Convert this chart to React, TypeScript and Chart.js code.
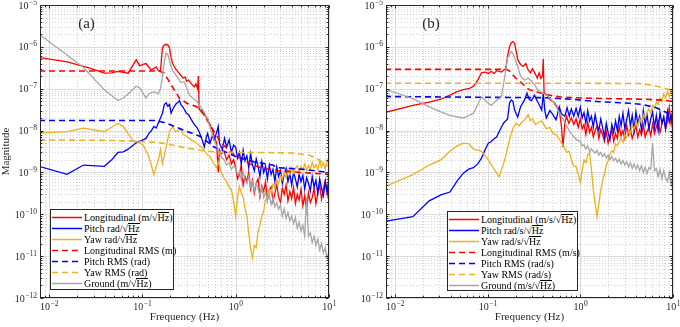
import React, { useEffect, useRef } from 'react';
import { Chart, registerables } from 'chart.js';

Chart.register(...registerables);

type Pt = [number, number];

const FONT = '"Liberation Serif", "Times New Roman", serif';
const RED = '#FF0000';
const BLUE = '#0000FF';
const ORANGE = '#EDB120';
const GRAY = '#A6A6A6';
const INK = '#262626';

const X_MIN = 0.008;
const X_MAX = 10;
const Y_MIN = 1e-12;
const Y_MAX = 1e-5;

// shared frequency grid (Hz) for the noisy high-frequency part
const HF = [
  1.0, 1.047, 1.096, 1.148, 1.202, 1.259, 1.318, 1.38, 1.445, 1.514,
  1.585, 1.66, 1.738, 1.82, 1.905, 1.995, 2.089, 2.188, 2.291, 2.399,
  2.512, 2.63, 2.754, 2.884, 3.02, 3.162, 3.311, 3.467, 3.631, 3.802,
  3.981, 4.169, 4.365, 4.571, 4.786, 5.012, 5.248, 5.495, 5.754, 6.026,
  6.31, 6.607, 6.918, 7.244, 7.586, 7.943, 8.318, 8.71, 9.12, 9.55,
  10.0,
];

// ---------------- panel (a) ----------------
const aLongLow: Pt[] = [
  [0.0078, 5.6e-7], [0.0156, 4.4e-7], [0.0234, 3.4e-7], [0.0273, 3.1e-7], [0.0391, 2.35e-7],
  [0.0469, 2.4e-7], [0.0547, 2.6e-7], [0.0703, 2.35e-7], [0.0859, 4.9e-7], [0.0938, 3.5e-7],
  [0.1016, 3.8e-7], [0.1094, 4.0e-7], [0.1172, 3.3e-7], [0.125, 2.8e-7], [0.1406, 3.3e-7],
  [0.1484, 2.7e-7], [0.1563, 2.6e-7], [0.1641, 9.5e-7], [0.1719, 1.1e-6], [0.1797, 1.15e-6],
  [0.1875, 1.1e-6], [0.1953, 9.5e-7], [0.2031, 5.5e-7], [0.2109, 4.0e-7], [0.2266, 3.0e-7],
  [0.2422, 2.5e-7], [0.2578, 2.1e-7], [0.2734, 1.8e-7], [0.2891, 1.9e-7], [0.2969, 1.5e-7],
  [0.3125, 1.6e-7], [0.3359, 1.3e-7], [0.3594, 1.1e-7], [0.375, 1.3e-7], [0.3906, 1.0e-7],
  [0.3984, 2.0e-7], [0.4063, 3.2e-8], [0.4375, 3.0e-8], [0.4688, 2.3e-8], [0.5, 1.9e-8],
  [0.5313, 1.4e-8], [0.5625, 1.0e-8], [0.6, 6.5e-9], [0.625, 5e-9], [0.65, 1.0e-9],
  [0.67, 3.5e-9], [0.7, 2.8e-9], [0.75, 3.2e-9], [0.8, 2.0e-9], [0.85, 2.6e-9],
  [0.9, 1.6e-9], [0.95, 2.0e-9],
];
const aLongHigh = [
  1.3e-9, 7e-10, 9e-10, 1.5e-9, 5e-10, 8e-10, 6e-10, 1.0e-9, 4e-10, 6.5e-10,
  3.2e-10, 5.5e-10, 7e-10, 2.6e-10, 4.8e-10, 3.5e-10, 6e-10, 2.2e-10, 3.8e-10, 4.5e-10,
  2e-10, 3.2e-10, 5.2e-10, 2.6e-10, 1.9e-10, 4.2e-10, 3e-10, 5e-10, 2.1e-10, 3.5e-10,
  2.4e-10, 4.4e-10, 1.8e-10, 3e-10, 2.2e-10, 4e-10, 1.6e-10, 2.8e-10, 1.3e-10, 3.3e-10,
  1.9e-10, 2.5e-10, 4.2e-10, 1.8e-10, 3.2e-10, 5e-10, 2.3e-10, 4e-10, 6.5e-10, 3e-10,
  8e-10,
];

const aPitchLow: Pt[] = [
  [0.0078, 1.4e-9], [0.0156, 9e-10], [0.0234, 1.5e-9], [0.0391, 1.4e-9], [0.0469, 2.0e-9],
  [0.0547, 3.0e-9], [0.0625, 3.1e-9], [0.0703, 3.6e-9], [0.0859, 5.1e-9], [0.1016, 6e-9],
  [0.1094, 6.5e-9], [0.1172, 8.5e-9], [0.125, 1.0e-8], [0.1328, 1.25e-8], [0.1406, 1.15e-8],
  [0.1563, 2.0e-8], [0.1641, 2.6e-8], [0.1719, 4.2e-8], [0.1797, 4.6e-8], [0.1875, 3.8e-8],
  [0.1953, 4.2e-8], [0.2031, 2.6e-8], [0.2109, 3.2e-8], [0.2266, 4.2e-8], [0.2422, 4.8e-8],
  [0.25, 5.2e-8], [0.2578, 4.2e-8], [0.2734, 3.6e-8], [0.2969, 2.6e-8], [0.3125, 2.4e-8],
  [0.3359, 1.8e-8], [0.3594, 1.4e-8], [0.3828, 1.2e-8], [0.4063, 9.4e-9], [0.4375, 6e-9],
  [0.4609, 4.1e-9], [0.4844, 7e-9], [0.5, 8.5e-9], [0.5313, 5e-9], [0.5625, 7.5e-9],
  [0.5859, 6e-9], [0.625, 9e-9], [0.65, 1.25e-8], [0.67, 5e-9], [0.72, 3.5e-9],
  [0.76, 6.5e-9], [0.8, 4e-9], [0.85, 6e-9], [0.9, 3e-9], [0.95, 4.5e-9],
];
const aPitchHigh = [
  4e-9, 2.2e-9, 3e-9, 1.6e-9, 3.4e-9, 1.9e-9, 2.5e-9, 1.3e-9, 2.8e-9, 1.5e-9,
  1.1e-9, 2.1e-9, 1.4e-9, 8e-10, 1.8e-9, 1.0e-9, 1.4e-9, 7e-10, 1.5e-9, 9e-10,
  1.2e-9, 6e-10, 1.35e-9, 8e-10, 1.1e-9, 5.5e-10, 9e-10, 1.25e-9, 6e-10, 9.5e-10,
  5e-10, 1.0e-9, 7e-10, 4.5e-10, 9e-10, 6e-10, 8.5e-10, 4e-10, 7.5e-10, 5.5e-10,
  3.6e-10, 8e-10, 4.5e-10, 6.5e-10, 3.2e-10, 7e-10, 4.2e-10, 2.8e-10, 6e-10, 3.5e-10,
  6e-10,
];

const aYawLow: Pt[] = [
  [0.0078, 8.7e-9], [0.0156, 9.4e-9], [0.0234, 1.14e-8], [0.0391, 9.4e-9], [0.0547, 1.5e-8],
  [0.0625, 1.25e-8], [0.0781, 6e-9], [0.1016, 4.6e-9], [0.1172, 2.4e-9], [0.1328, 9e-10],
  [0.1484, 2e-9], [0.1563, 3.5e-9], [0.1641, 1.6e-9], [0.1797, 4.1e-9], [0.1953, 9.4e-9],
  [0.2109, 1.25e-8], [0.2266, 9.4e-9], [0.2422, 1.0e-8], [0.2578, 1.1e-8], [0.2734, 8e-9],
  [0.2969, 7.3e-9], [0.3359, 6e-9], [0.375, 5.1e-9], [0.4375, 3.9e-9], [0.5, 2.6e-9],
  [0.5313, 2.4e-9], [0.5625, 1.8e-9], [0.6, 1.5e-9], [0.625, 1.3e-9], [0.65, 1.8e-9],
  [0.7, 1e-9], [0.76, 7e-10], [0.8, 6e-10], [0.85, 4.5e-10], [0.9, 3.8e-10],
  [0.95, 2e-10],
];
const aYawHigh = [
  9e-11, 2.5e-10, 4.6e-10, 3.2e-10, 2.6e-10, 1.4e-10, 9e-11, 3.5e-11, 1.5e-11, 9e-12,
  1.8e-11, 1.6e-11, 4e-11, 5.5e-11, 9e-11, 1.2e-10, 2.2e-10, 2.4e-10, 3.8e-10, 3.3e-10,
  5.2e-10, 4.2e-10, 6.8e-10, 5.5e-10, 8.5e-10, 6.8e-10, 1.0e-9, 7.5e-10, 1.15e-9, 9e-10,
  1.3e-9, 9.5e-10, 1.25e-9, 1.45e-9, 1.0e-9, 1.4e-9, 1.15e-9, 1.6e-9, 1.1e-9, 1.45e-9,
  1.2e-9, 1.75e-9, 1.3e-9, 1.55e-9, 1.15e-9, 1.9e-9, 1.35e-9, 1.7e-9, 1.2e-9, 2e-9,
  1.5e-9,
];

const aLongRms: Pt[] = [
  [0.0078, 2.66e-7], [0.15, 2.66e-7], [0.17, 2.4e-7], [0.19, 1.6e-7], [0.21, 1.1e-7],
  [0.25, 5.9e-8], [0.3, 4.5e-8], [0.38, 3.7e-8], [0.45, 2.5e-8], [0.55, 1.2e-8],
  [0.7, 5e-9], [1, 2.5e-9], [1.5, 1.5e-9], [2, 1.25e-9], [3, 1.1e-9],
  [5, 1e-9], [9.9, 9e-10], [10, 2e-10],
];
const aPitchRms: Pt[] = [
  [0.0078, 1.74e-8], [0.14, 1.74e-8], [0.18, 1.5e-8], [0.27, 1.05e-8], [0.42, 7.2e-9],
  [0.58, 4.1e-9], [1, 2.4e-9], [1.55, 1.8e-9], [2.5, 1.5e-9], [2.8, 1.3e-9],
  [5, 1.2e-9], [9.9, 1.0e-9], [10, 1.5e-11],
];
const aYawRms: Pt[] = [
  [0.0078, 6e-9], [0.05, 5.8e-9], [0.15, 5.2e-9], [0.2, 4.6e-9], [0.3, 3.8e-9],
  [0.45, 3.3e-9], [0.6, 3.1e-9], [1, 3e-9], [2, 3e-9], [4, 2.9e-9],
  [6, 2.6e-9], [7, 2.3e-9], [8, 1.9e-9], [9, 1.6e-9], [9.9, 1.4e-9], [10, 3e-10],
];

const aGroundLow: Pt[] = [
  [0.0078, 2e-6], [0.0156, 6.4e-7], [0.0234, 3.2e-7], [0.0313, 1.6e-7], [0.0391, 9.5e-8],
  [0.0547, 5.2e-8], [0.0625, 6e-8], [0.0703, 7.5e-8], [0.0859, 1.15e-7], [0.0938, 1.05e-7],
  [0.1094, 6e-8], [0.1172, 7.5e-8], [0.1328, 8.5e-8], [0.1484, 7.5e-8], [0.1563, 1.0e-7],
  [0.1641, 1.9e-7], [0.1719, 4.5e-7], [0.1797, 7.1e-7], [0.1875, 6.5e-7], [0.1953, 4.6e-7],
  [0.2109, 2.7e-7], [0.2422, 1.8e-7], [0.2578, 1.4e-7], [0.2813, 1.45e-7], [0.3203, 7e-8],
  [0.3594, 5.6e-8], [0.3828, 5e-8], [0.4297, 3.5e-8], [0.5, 1.95e-8], [0.5313, 1.2e-8],
  [0.5781, 6.5e-9], [0.6172, 4.5e-9], [0.6641, 3e-9], [0.7, 2.4e-9], [0.75, 2e-9],
  [0.8, 1.5e-9], [0.85, 1.7e-9], [0.9, 1.2e-9], [0.95, 1.4e-9],
];
const aGroundHigh = [
  1.3e-9, 9e-10, 1.05e-9, 6.5e-10, 1.0e-9, 7e-10, 5.5e-10, 8e-10, 4.5e-10, 6e-10,
  3.6e-10, 5.5e-10, 4e-10, 2.8e-10, 4.5e-10, 2.5e-10, 3.4e-10, 2.1e-10, 2.9e-10, 1.7e-10,
  2.5e-10, 1.5e-10, 1.9e-10, 1.3e-10, 1.7e-10, 9e-11, 1.35e-10, 8e-11, 1.1e-10, 7e-11,
  9e-11, 6e-11, 8.5e-11, 4.6e-11, 6.5e-11, 4e-11, 5.5e-11, 3e-11, 2.6e-10, 3e-11,
  3.6e-11, 2.1e-11, 3e-11, 1.8e-11, 2.6e-11, 1.4e-11, 2e-11, 1.2e-11, 1.6e-11, 9e-12,
  1.3e-11,
];

// ---------------- panel (b) ----------------
const bLongLow: Pt[] = [
  [0.0078, 2.7e-8], [0.0156, 4.0e-8], [0.0234, 4.8e-8], [0.0313, 5.6e-8], [0.0391, 7e-8],
  [0.0469, 8.5e-8], [0.0547, 9.5e-8], [0.0625, 1.0e-7], [0.0703, 1.15e-7], [0.0781, 1.6e-7],
  [0.0859, 2.4e-7], [0.0938, 2.5e-7], [0.1016, 2.3e-7], [0.1094, 2.6e-7], [0.1172, 2.3e-7],
  [0.125, 2.7e-7], [0.1406, 2.5e-7], [0.1563, 3.0e-7], [0.1641, 6e-7], [0.1719, 1.0e-6],
  [0.1797, 1.25e-6], [0.1875, 1.33e-6], [0.1953, 1.2e-6], [0.2031, 8e-7], [0.2109, 5e-7],
  [0.2266, 3.8e-7], [0.2422, 3.4e-7], [0.2578, 4.0e-7], [0.2734, 2.8e-7], [0.2891, 2.4e-7],
  [0.3047, 3.0e-7], [0.3281, 2.2e-7], [0.3438, 1.8e-7], [0.3594, 2.4e-7], [0.375, 1.75e-7],
  [0.3906, 2.0e-7], [0.3984, 5.2e-7], [0.4063, 8e-8], [0.4375, 7e-8], [0.4688, 5.5e-8],
  [0.5, 5e-8], [0.5313, 4.5e-8], [0.5625, 3.6e-8], [0.5938, 3.0e-8], [0.625, 1.3e-8],
  [0.65, 4e-9], [0.68, 1.5e-8], [0.71, 2.2e-8], [0.75, 1.5e-8], [0.8, 2e-8],
  [0.85, 1.4e-8], [0.9, 1.9e-8], [0.95, 1.2e-8],
];
const bLongHigh = [
  1.9e-8, 1.1e-8, 1.4e-8, 8e-9, 1.6e-8, 9e-9, 1.2e-8, 7e-9, 1.0e-8, 1.3e-8,
  6.5e-9, 1.05e-8, 8e-9, 5.5e-9, 9.5e-9, 5e-9, 7.5e-9, 1.05e-8, 5.5e-9, 8.5e-9,
  6.5e-9, 1.25e-8, 7.5e-9, 1.0e-8, 6.5e-9, 1.35e-8, 8e-9, 1.1e-8, 6.5e-9, 9e-9,
  1.3e-8, 7e-9, 1.05e-8, 8e-9, 1.35e-8, 7e-9, 9.5e-9, 1.2e-8, 7.5e-9, 1.45e-8,
  8.5e-9, 1.2e-8, 1.7e-8, 9e-9, 1.4e-8, 2.1e-8, 1.1e-8, 1.7e-8, 3.6e-8, 1.4e-8,
  2.5e-8,
];

const bPitchLow: Pt[] = [
  [0.0078, 6.8e-11], [0.0156, 8.8e-11], [0.0234, 2.1e-10], [0.0313, 2.9e-10], [0.0391, 3.4e-10],
  [0.0469, 6.3e-10], [0.0547, 9.6e-10], [0.0625, 1.2e-9], [0.0703, 1.3e-9], [0.0781, 1.6e-9],
  [0.0859, 2.2e-9], [0.0938, 3.5e-9], [0.1016, 5e-9], [0.1094, 5.5e-9], [0.1172, 6.4e-9],
  [0.125, 7e-9], [0.1328, 9.4e-9], [0.1406, 1.2e-8], [0.1484, 1.5e-8], [0.1563, 1.7e-8],
  [0.1641, 1.9e-8], [0.1719, 4.5e-8], [0.1797, 5.4e-8], [0.1875, 5e-8], [0.1953, 3.1e-8],
  [0.2109, 2.1e-8], [0.2266, 3.7e-8], [0.25, 5.4e-8], [0.2656, 7.8e-8], [0.2813, 5.5e-8],
  [0.2969, 5.2e-8], [0.3203, 7e-8], [0.3438, 5e-8], [0.3672, 3.8e-8], [0.3828, 3.1e-8],
  [0.3984, 7.8e-8], [0.4141, 3e-8], [0.4297, 2e-8], [0.4688, 3e-8], [0.5, 2.5e-8],
  [0.5469, 1.8e-8], [0.5938, 3.7e-8], [0.625, 2.5e-8], [0.68, 2.2e-8], [0.72, 3.5e-8],
  [0.76, 2.2e-8], [0.8, 3.3e-8], [0.85, 2.2e-8], [0.9, 3.4e-8], [0.95, 2.2e-8],
];
const bPitchHigh = [
  3.6e-8, 2e-8, 2.7e-8, 1.5e-8, 3e-8, 1.7e-8, 2.2e-8, 1.2e-8, 2.4e-8, 1.4e-8,
  1.0e-8, 1.9e-8, 1.2e-8, 7e-9, 1.5e-8, 9e-9, 6e-9, 1.4e-8, 9e-9, 1.7e-8,
  1.0e-8, 2.2e-8, 1.3e-8, 2.6e-8, 1.1e-8, 1.8e-8, 3e-8, 1.3e-8, 2.3e-8, 1.0e-8,
  2.8e-8, 1.5e-8, 2.2e-8, 1.0e-8, 3e-8, 1.4e-8, 2.4e-8, 1.1e-8, 1.9e-8, 2.8e-8,
  1.2e-8, 2.3e-8, 1.0e-8, 2.7e-8, 1.5e-8, 2.1e-8, 1.1e-8, 2.9e-8, 1.6e-8, 2.4e-8,
  1.3e-8,
];

const bYawLow: Pt[] = [
  [0.0078, 4.6e-10], [0.0156, 8.9e-10], [0.0234, 1.5e-9], [0.0313, 2e-9], [0.0391, 3.2e-9],
  [0.0469, 4.3e-9], [0.0547, 5e-9], [0.0625, 4.8e-9], [0.0703, 3.6e-9], [0.0859, 3.2e-9],
  [0.1016, 2e-9], [0.1172, 1.2e-9], [0.1328, 8e-10], [0.1484, 1.6e-9], [0.1563, 2.4e-9],
  [0.1719, 6e-9], [0.1875, 1.14e-8], [0.2031, 1.5e-8], [0.2188, 1.3e-8], [0.2344, 1.6e-8],
  [0.25, 1.8e-8], [0.2734, 2.4e-8], [0.2891, 1.7e-8], [0.3047, 1.9e-8], [0.3281, 1.4e-8],
  [0.3594, 1.6e-8], [0.3828, 1.7e-8], [0.4297, 1.1e-8], [0.4688, 1.2e-8], [0.5078, 8.5e-9],
  [0.55, 8e-9], [0.6, 6e-9], [0.65, 4.5e-9], [0.71, 3e-9], [0.76, 3.2e-9],
  [0.8, 2e-9], [0.85, 1.4e-9], [0.9, 1.4e-9], [0.95, 9e-10],
];
const bYawHigh = [
  5.8e-10, 1.1e-9, 2e-9, 1.7e-9, 2.6e-9, 2.9e-9, 1.2e-9, 3.8e-10, 1.8e-10, 8.8e-11,
  1.8e-10, 3.8e-10, 6.5e-10, 9e-10, 1.5e-9, 1.9e-9, 2.7e-9, 3.3e-9, 3.0e-9, 4.8e-9,
  4.3e-9, 5.5e-9, 6.5e-9, 5.2e-9, 8e-9, 7e-9, 1.0e-8, 8.5e-9, 1.3e-8, 1.1e-8,
  1.6e-8, 1.3e-8, 1.9e-8, 1.5e-8, 2.4e-8, 2e-8, 2.7e-8, 3.3e-8, 2.6e-8, 4e-8,
  3.4e-8, 4.8e-8, 4.2e-8, 6e-8, 5e-8, 7.5e-8, 6e-8, 8.5e-8, 6.5e-8, 9.5e-8,
  7.5e-8,
];

const bLongRms: Pt[] = [
  [0.0078, 2.9e-7], [0.16, 2.9e-7], [0.174, 2.6e-7], [0.2, 1.8e-7], [0.22, 1.55e-7],
  [0.25, 1.17e-7], [0.28, 9.5e-8], [0.33, 8.5e-8], [0.43, 7.2e-8], [0.6, 6.4e-8],
  [1, 6e-8], [2, 5.8e-8], [5, 5.6e-8], [8, 5.3e-8], [9.9, 5e-8], [10, 3e-9],
];
const bPitchRms: Pt[] = [
  [0.0078, 6.5e-8], [0.43, 6.1e-8], [0.8, 5.6e-8], [1.6, 4.9e-8], [3.4, 4.5e-8],
  [4.7, 4.2e-8], [6.6, 3.5e-8], [8.5, 2.7e-8], [9.9, 2.2e-8], [10, 1e-9],
];
const bYawRms: Pt[] = [
  [0.0078, 1.35e-7], [1, 1.35e-7], [4.3, 1.33e-7], [6, 1.22e-7], [7.8, 1.05e-7],
  [9.9, 9e-8], [10, 5e-9],
];

const bGroundLow: Pt[] = [
  [0.0078, 9.8e-8], [0.0156, 5.8e-8], [0.0234, 3.7e-8], [0.0313, 2.8e-8], [0.0391, 2.3e-8],
  [0.0547, 2.0e-8], [0.0703, 2.6e-8], [0.0859, 6.4e-8], [0.1016, 4.5e-8], [0.1094, 4.0e-8],
  [0.125, 5.3e-8], [0.1406, 6.4e-8], [0.1484, 1.3e-7], [0.1563, 2.6e-7], [0.1641, 5.5e-7],
  [0.1797, 7.7e-7], [0.1875, 6.8e-7], [0.1953, 5.5e-7], [0.2109, 3.4e-7], [0.2266, 2.0e-7],
  [0.25, 1.6e-7], [0.2734, 1.8e-7], [0.3125, 1.35e-7], [0.3516, 9e-8], [0.3984, 7.8e-8],
  [0.4531, 6.5e-8], [0.5156, 4.7e-8], [0.5781, 3e-8], [0.64, 2e-8], [0.71, 1.3e-8],
  [0.78, 9e-9], [0.84, 7.3e-9], [0.92, 6e-9],
];
const bGroundHigh = [
  5.5e-9, 4.3e-9, 4.6e-9, 3.6e-9, 4.3e-9, 3.1e-9, 3.7e-9, 3.2e-9, 2.9e-9, 3.4e-9,
  2.6e-9, 3e-9, 2.4e-9, 2.8e-9, 2.2e-9, 2.6e-9, 2.0e-9, 2.4e-9, 1.9e-9, 2.2e-9,
  1.75e-9, 2.1e-9, 1.6e-9, 1.9e-9, 1.5e-9, 1.8e-9, 1.35e-9, 1.7e-9, 1.25e-9, 1.6e-9,
  1.2e-9, 1.5e-9, 1.1e-9, 1.45e-9, 1.0e-9, 1.35e-9, 9.5e-10, 1.3e-9, 1.2e-9, 5e-9,
  1.1e-9, 1.25e-9, 8e-10, 1.2e-9, 7e-10, 1.1e-9, 7.5e-10, 6e-10, 1.0e-9, 5e-10,
  8e-10,
];

const labelsA = [
  'Longitudinal (m/√Hz)', 'Pitch rad/√Hz', 'Yaw rad/√Hz',
  'Longitudinal RMS (m)', 'Pitch RMS (rad)', 'Yaw RMS (rad)', 'Ground (m/√Hz)',
];
const labelsB = [
  'Longitudinal (m/s/√Hz)', 'Pitch rad/s/√Hz', 'Yaw rad/s/√Hz',
  'Longitudinal RMS (m/s)', 'Pitch RMS (rad/s)', 'Yaw RMS (rad/s)', 'Ground (m/s/√Hz)',
];

const COLORS = [RED, BLUE, ORANGE, RED, BLUE, ORANGE, GRAY];
const DASHED = [false, false, false, true, true, true, false];

const join = (low: Pt[], high?: number[]) => [
  ...low.map(([x, y]) => ({ x, y })),
  ...(high ? HF.map((x, i) => ({ x, y: high[i] })) : []),
];

const seriesA = [
  join(aLongLow, aLongHigh), join(aPitchLow, aPitchHigh), join(aYawLow, aYawHigh),
  join(aLongRms), join(aPitchRms), join(aYawRms), join(aGroundLow, aGroundHigh),
];
const seriesB = [
  join(bLongLow, bLongHigh), join(bPitchLow, bPitchHigh), join(bYawLow, bYawHigh),
  join(bLongRms), join(bPitchRms), join(bYawRms), join(bGroundLow, bGroundHigh),
];

function logTicks(min: number, max: number) {
  const out: { v: number; major: boolean; e: number }[] = [];
  for (let e = Math.floor(Math.log10(min)); e <= Math.ceil(Math.log10(max)); e++) {
    for (let m = 1; m <= 9; m++) {
      const v = m * Math.pow(10, e);
      if (v >= min * 0.999 && v <= max * 1.001) out.push({ v, major: m === 1, e });
    }
  }
  return out;
}

function drawPow(ctx: CanvasRenderingContext2D, x: number, yBase: number, e: number, anchor: 'right' | 'center') {
  const base = '10';
  const ex = (e < 0 ? '\u2212' : '') + Math.abs(e);
  ctx.font = `10px ${FONT}`;
  const w1 = ctx.measureText(base).width;
  ctx.font = `7.5px ${FONT}`;
  const w2 = ctx.measureText(ex).width;
  const x0 = anchor === 'right' ? x - w1 - w2 - 0.5 : x - (w1 + w2) / 2;
  ctx.font = `10px ${FONT}`;
  ctx.fillText(base, x0, yBase);
  ctx.font = `7.5px ${FONT}`;
  ctx.fillText(ex, x0 + w1 + 0.5, yBase - 4);
}

const matlabAxes = {
  id: 'matlabAxes',
  beforeDatasetsDraw(chart: any) {
    const { ctx, chartArea: ca } = chart;
    const xs = chart.scales.x;
    const ys = chart.scales.y;
    ctx.save();
    ctx.fillStyle = '#ffffff';
    ctx.fillRect(ca.left, ca.top, ca.right - ca.left, ca.bottom - ca.top);
    ctx.lineWidth = 1;
    for (const t of logTicks(X_MIN, X_MAX)) {
      const p = Math.round(xs.getPixelForValue(t.v)) + 0.5;
      ctx.strokeStyle = t.major ? '#DCDCDC' : '#D2D2D2';
      ctx.setLineDash(t.major ? [] : [1, 2]);
      ctx.beginPath();
      ctx.moveTo(p, ca.top);
      ctx.lineTo(p, ca.bottom);
      ctx.stroke();
    }
    for (const t of logTicks(Y_MIN, Y_MAX)) {
      const p = Math.round(ys.getPixelForValue(t.v)) + 0.5;
      ctx.strokeStyle = t.major ? '#DCDCDC' : '#D2D2D2';
      ctx.setLineDash(t.major ? [] : [1, 2]);
      ctx.beginPath();
      ctx.moveTo(ca.left, p);
      ctx.lineTo(ca.right, p);
      ctx.stroke();
    }
    ctx.restore();
  },
  afterDatasetsDraw(chart: any, _args: any, opts: any) {
    const { ctx, chartArea: ca } = chart;
    const xs = chart.scales.x;
    const ys = chart.scales.y;
    ctx.save();
    ctx.setLineDash([]);
    ctx.strokeStyle = INK;
    ctx.lineWidth = 1;
    const L = Math.round(ca.left) + 0.5;
    const R = Math.round(ca.right) - 0.5;
    const T = Math.round(ca.top) + 0.5;
    const B = Math.round(ca.bottom) - 0.5;
    ctx.strokeRect(L, T, R - L, B - T);
    ctx.beginPath();
    for (const t of logTicks(X_MIN, X_MAX)) {
      const p = Math.round(xs.getPixelForValue(t.v)) + 0.5;
      const len = t.major ? 3 : 1.8;
      ctx.moveTo(p, B); ctx.lineTo(p, B - len);
      ctx.moveTo(p, T); ctx.lineTo(p, T + len);
    }
    for (const t of logTicks(Y_MIN, Y_MAX)) {
      const p = Math.round(ys.getPixelForValue(t.v)) + 0.5;
      const len = t.major ? 3 : 1.8;
      ctx.moveTo(L, p); ctx.lineTo(L + len, p);
      ctx.moveTo(R, p); ctx.lineTo(R - len, p);
    }
    ctx.stroke();

    ctx.fillStyle = INK;
    ctx.textAlign = 'left';
    ctx.textBaseline = 'alphabetic';
    for (const t of logTicks(Y_MIN, Y_MAX)) {
      if (!t.major) continue;
      drawPow(ctx, ca.left - 3, ys.getPixelForValue(t.v) + 3.5, t.e, 'right');
    }
    for (const t of logTicks(X_MIN, X_MAX)) {
      if (!t.major) continue;
      drawPow(ctx, xs.getPixelForValue(t.v), 310, t.e, 'center');
    }
    ctx.font = `11px ${FONT}`;
    ctx.textAlign = 'center';
    ctx.fillText('Frequency (Hz)', (ca.left + ca.right) / 2, 320);
    if (opts && opts.yTitle) {
      ctx.translate(8.5, (ca.top + ca.bottom) / 2);
      ctx.rotate(-Math.PI / 2);
      ctx.fillText('Magnitude', 0, 0);
    }
    ctx.restore();
  },
};

function LegendLabel({ text }: { text: string }) {
  const parts = text.split('√Hz');
  return (
    <span>
      {parts.map((p, i) => (
        <React.Fragment key={i}>
          {p}
          {i < parts.length - 1 && (
            <>
              √
              <span
                style={{
                  display: 'inline-block', borderTop: '1px solid #000', lineHeight: '8px',
                  paddingTop: 1,
                }}
              >
                Hz
              </span>
            </>
          )}
        </React.Fragment>
      ))}
    </span>
  );
}

type PanelProps = {
  left: number;
  padding: { left: number; right: number; top: number; bottom: number };
  series: { x: number; y: number }[][];
  labels: string[];
  tag: string;
  tagX: number;
  tagY: number;
  legend: { left: number; top: number; width: number; height: number };
  yTitle: boolean;
};

function Panel({ left, padding, series, labels, tag, tagX, tagY, legend, yTitle }: PanelProps) {
  const ref = useRef<HTMLCanvasElement>(null);
  useEffect(() => {
    const chart = new Chart(ref.current as HTMLCanvasElement, {
      type: 'line',
      data: {
        datasets: series.map((d, i) => ({
          label: labels[i],
          data: d,
          borderColor: COLORS[i],
          backgroundColor: COLORS[i],
          borderWidth: DASHED[i] ? 1.6 : 1.3,
          borderDash: DASHED[i] ? [6, 4] : [],
          pointRadius: 0,
          fill: false,
          tension: 0,
          order: 10 - i,
        })),
      },
      options: {
        animation: false,
        responsive: false,
        devicePixelRatio: 1,
        events: [],
        layout: { padding },
        plugins: {
          legend: { display: false },
          tooltip: { enabled: false },
          // @ts-ignore
          matlabAxes: { yTitle },
        },
        scales: {
          x: { type: 'logarithmic', min: X_MIN, max: X_MAX, display: false },
          y: { type: 'logarithmic', min: Y_MIN, max: Y_MAX, display: false },
        },
      },
      plugins: [matlabAxes as any],
    });
    return () => chart.destroy();
  }, []);

  return (
    <div style={{ position: 'absolute', left, top: 0, width: 340, height: 327 }}>
      <canvas ref={ref} width={340} height={327} style={{ display: 'block', width: 340, height: 327 }} />
      <div
        style={{
          position: 'absolute', left: tagX, top: tagY, transform: 'translate(-50%, -50%)',
          fontFamily: FONT, fontSize: 15, lineHeight: 1, color: INK, whiteSpace: 'nowrap',
        }}
      >
        {tag}
      </div>
      <div
        style={{
          position: 'absolute', left: legend.left, top: legend.top, width: legend.width,
          height: legend.height, boxSizing: 'border-box', border: `1px solid ${INK}`,
          background: '#ffffff', fontFamily: FONT, fontSize: 10, color: '#000',
        }}
      >
        {labels.map((lab, i) => (
          <div
            key={i}
            style={{
              position: 'absolute', left: 0, top: 1.5 + i * 11.1, height: 11.1,
              display: 'flex', alignItems: 'center', whiteSpace: 'nowrap', lineHeight: '11px',
            }}
          >
            <svg width={33} height={11} style={{ display: 'block', flex: 'none' }}>
              <line
                x1={1} x2={31} y1={5.5} y2={5.5} stroke={COLORS[i]}
                strokeWidth={1.5} strokeDasharray={DASHED[i] ? '6 4' : undefined}
              />
            </svg>
            <LegendLabel text={lab} />
          </div>
        ))}
      </div>
    </div>
  );
}

export default function App() {
  useEffect(() => {
    document.body.style.margin = '0';
  }, []);
  return (
    <div style={{ position: 'absolute', left: 0, top: 0, width: 680, height: 327, background: '#ffffff', overflow: 'hidden' }}>
      <Panel
        left={0}
        padding={{ left: 40, right: 11, top: 5, bottom: 29 }}
        series={seriesA}
        labels={labelsA}
        tag="(a)"
        tagX={86.5}
        tagY={22.5}
        legend={{ left: 50, top: 209, width: 124, height: 81 }}
        yTitle={true}
      />
      <Panel
        left={340}
        padding={{ left: 46, right: 7, top: 5, bottom: 29 }}
        series={seriesB}
        labels={labelsB}
        tag="(b)"
        tagX={91}
        tagY={23}
        legend={{ left: 107, top: 211, width: 131, height: 80 }}
        yTitle={false}
      />
    </div>
  );
}
